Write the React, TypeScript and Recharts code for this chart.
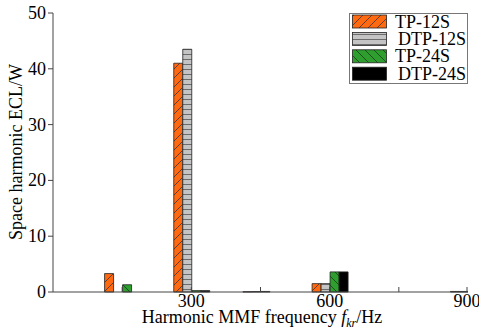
import React from 'react';
import { BarChart, Bar, XAxis, YAxis } from 'recharts';

const frequencies = [150, 300, 450, 600, 900];
const tp12s = [3.3, 41.0, 0.05, 1.5, 0.1];
const dtp12s = [0, 43.5, 0.08, 1.5, 0.1];
const tp24s = [1.3, 0.25, 0.1, 3.6, 0];
const dtp24s = [0, 0.25, 0, 3.6, 0];
const seriesNames = ['TP-12S', 'DTP-12S', 'TP-24S', 'DTP-24S'];
const xTicks = [150, 300, 450, 600, 750, 900];
const xTickLabels = [300, 600, 900];
const yTicks = [0, 10, 20, 30, 40, 50];

const data = frequencies.map((f, i) => ({
  f,
  tp12: tp12s[i],
  dtp12: dtp12s[i],
  tp24: tp24s[i],
  dtp24: dtp24s[i],
}));

const FONT = 'Liberation Serif';
const AXIS = '#444';
const fills = ['url(#pOrange)', 'url(#pGray)', 'url(#pGreen)', '#000'];

const BottomTick = (props: any) => {
  const { x, y, payload } = props;
  const show = xTickLabels.includes(payload.value);
  return (
    <g>
      <line x1={x} x2={x} y1={y} y2={y - 5} stroke={AXIS} strokeWidth={1} />
      {show && (
        <text x={x} y={y + 14.5} textAnchor="middle" style={{ fontFamily: FONT, fontSize: 18 }} fill="#000">
          {payload.value}
        </text>
      )}
    </g>
  );
};

const LeftTick = (props: any) => {
  const { x, y, payload } = props;
  return (
    <text x={x} y={y + 6} textAnchor="end" style={{ fontFamily: FONT, fontSize: 18 }} fill="#000">
      {payload.value}
    </text>
  );
};

const TopTick = (props: any) => {
  const { x, y } = props;
  return <line x1={x} x2={x} y1={y} y2={y + 5} stroke={AXIS} strokeWidth={1} />;
};

const RightTick = (props: any) => {
  const { x, y } = props;
  return <line x1={x} x2={x - 5} y1={y} y2={y} stroke={AXIS} strokeWidth={1} />;
};

export default function App() {
  return (
    <div style={{ position: 'absolute', left: 0, top: 0, width: 479, height: 329, background: '#fff', fontFamily: FONT }}>
      <BarChart
        width={479}
        height={329}
        data={data}
        margin={{ top: 13, right: 11, left: 0, bottom: 0 }}
        barGap={0}
        barCategoryGap={0}
      >
        <XAxis
          dataKey="f"
          type="number"
          domain={[0, 900]}
          ticks={xTicks}
          height={37}
          tickSize={0}
          tickMargin={0}
          tickLine={false}
          tick={<BottomTick />}
          axisLine={{ stroke: AXIS }}
          allowDataOverflow
        />
        <XAxis
          xAxisId="top"
          dataKey="f"
          orientation="top"
          type="number"
          domain={[0, 900]}
          ticks={xTicks}
          height={0}
          tickSize={0}
          tickMargin={0}
          tickLine={false}
          tick={<TopTick />}
          axisLine={{ stroke: AXIS }}
          allowDataOverflow
        />
        <YAxis
          domain={[0, 50]}
          ticks={yTicks}
          width={53}
          tickSize={5}
          tickMargin={2}
          tick={<LeftTick />}
          tickLine={{ stroke: AXIS }}
          axisLine={{ stroke: AXIS }}
        />
        <YAxis
          yAxisId="right"
          orientation="right"
          domain={[0, 50]}
          ticks={yTicks}
          width={0}
          tickSize={0}
          tickMargin={0}
          tickLine={false}
          tick={<RightTick />}
          axisLine={{ stroke: AXIS }}
        />
        <Bar dataKey="tp12" name={seriesNames[0]} fill={fills[0]} stroke="#222" strokeWidth={0.8} barSize={9} isAnimationActive={false} />
        <Bar dataKey="dtp12" name={seriesNames[1]} fill={fills[1]} stroke="#222" strokeWidth={0.8} barSize={9} isAnimationActive={false} />
        <Bar dataKey="tp24" name={seriesNames[2]} fill={fills[2]} stroke="#222" strokeWidth={0.8} barSize={9} isAnimationActive={false} />
        <Bar dataKey="dtp24" name={seriesNames[3]} fill={fills[3]} stroke="#222" strokeWidth={0.8} barSize={9} isAnimationActive={false} />
      </BarChart>
      <svg
        width={479}
        height={329}
        style={{ position: 'absolute', left: 0, top: 0, pointerEvents: 'none' }}
      >
        <defs>
          <pattern id="pOrange" patternUnits="userSpaceOnUse" width="9" height="9">
            <rect width="9" height="9" fill="#FF6A10" />
            <path d="M0,9 L9,0 M-2,2 L2,-2 M7,11 L11,7" stroke="#333" strokeWidth="0.8" />
          </pattern>
          <pattern id="pGray" patternUnits="userSpaceOnUse" width="9" height="5">
            <rect width="9" height="5" fill="#C4C4C4" />
            <path d="M0,4.5 L9,4.5" stroke="#555" strokeWidth="0.8" />
          </pattern>
          <pattern id="pGreen" patternUnits="userSpaceOnUse" width="9" height="9">
            <rect width="9" height="9" fill="#2E9E2E" />
            <path d="M0,0 L9,9 M-2,7 L2,11 M7,-2 L11,2" stroke="#1a3a1a" strokeWidth="0.8" />
          </pattern>
        </defs>
        <rect x={349.5} y={13.5} width={118} height={70} fill="#fff" stroke="#777" strokeWidth={1} />
        {seriesNames.map((name, i) => {
          const cy = 21.5 + i * 17.4;
          return (
            <g key={name}>
              <rect x={352.5} y={cy - 6.5} width={34} height={13} fill={fills[i]} stroke="#222" strokeWidth={0.8} />
              <text x={name.startsWith('D') ? 398 : 395} y={cy + 6} style={{ fontFamily: FONT, fontSize: 18 }} fill="#000">
                {name}
              </text>
            </g>
          );
        })}
        <text
          transform="translate(22,152) rotate(-90)"
          textAnchor="middle"
          style={{ fontFamily: FONT, fontSize: 18 }}
          fill="#000"
        >
          Space harmonic ECL/W
        </text>
        <text x={262} y={323} textAnchor="middle" style={{ fontFamily: FONT, fontSize: 18 }} fill="#000">
          Harmonic MMF frequency <tspan fontStyle="italic">f</tspan>
          <tspan fontStyle="italic" fontSize={12} dy={4}>kr</tspan>
          <tspan dy={-4}>/Hz</tspan>
        </text>
      </svg>
    </div>
  );
}
